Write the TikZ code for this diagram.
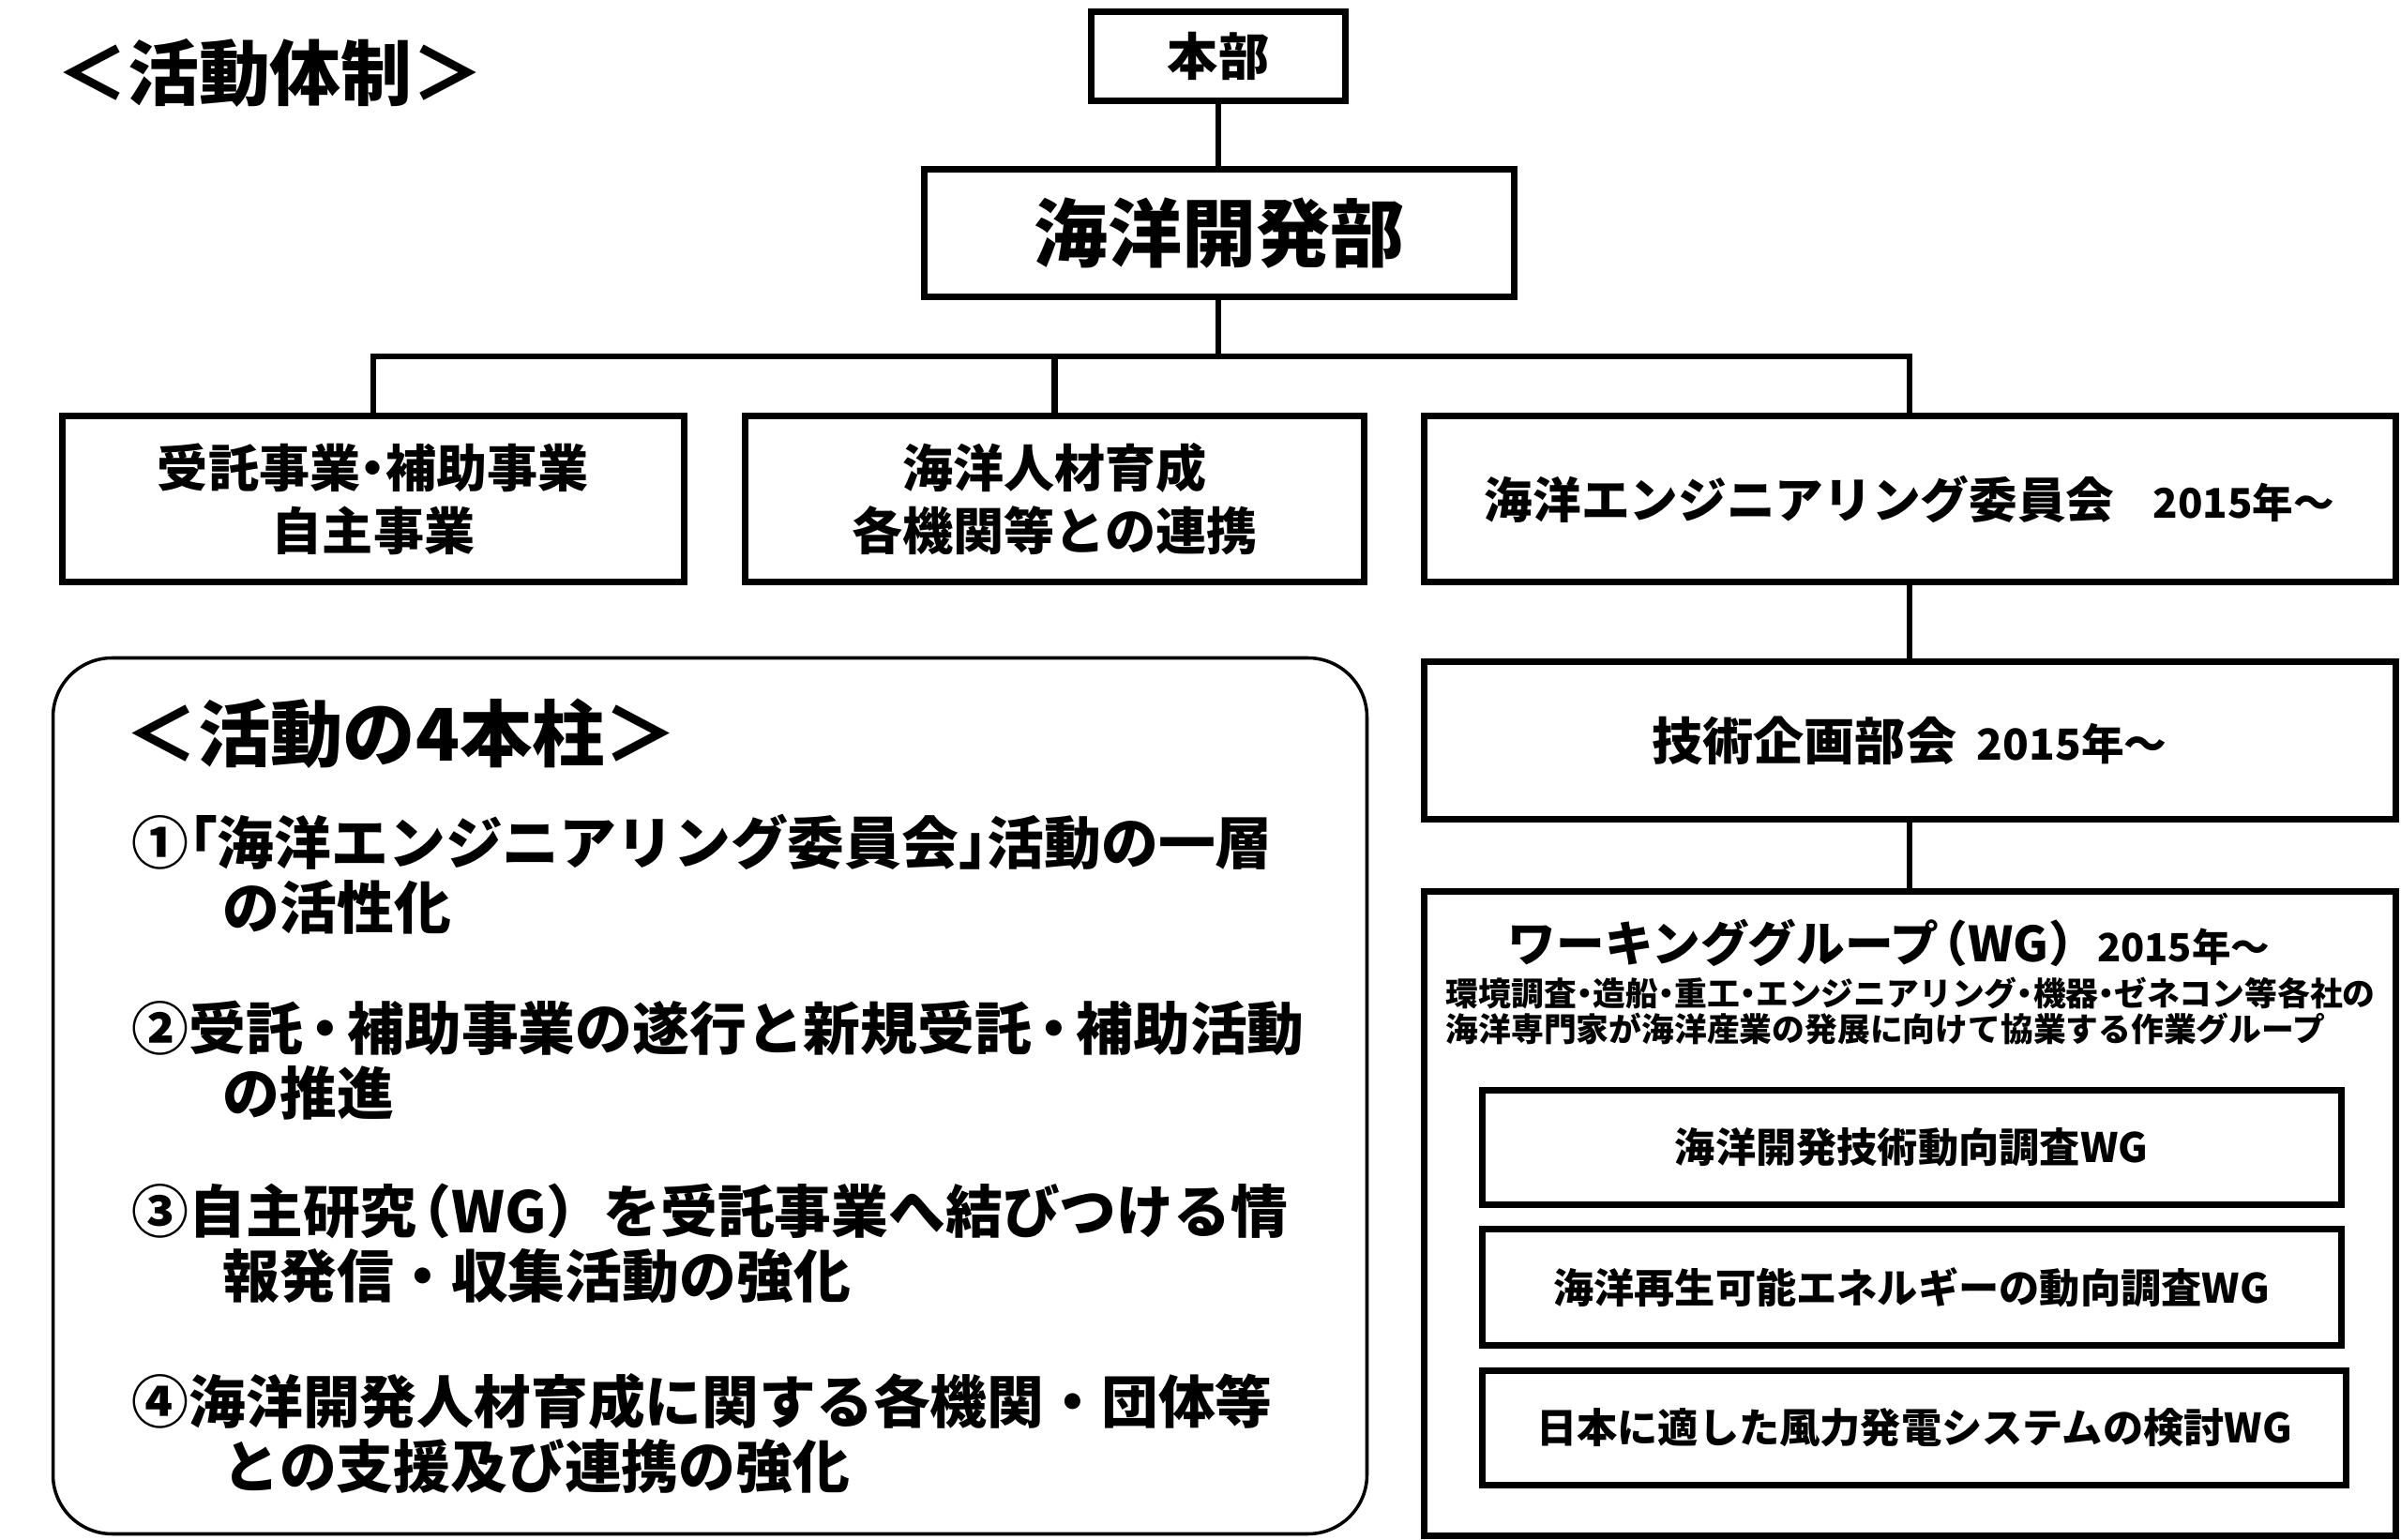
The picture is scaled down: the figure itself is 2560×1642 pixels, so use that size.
\documentclass[tikz,border=0pt]{standalone}
\usepackage{fontspec}
\setmainfont{Noto Sans CJK JP}
\newcommand{\hdot}{\makebox[.5em]{・}}
\newcommand{\mdot}{\makebox[.78em]{・}}
\newcommand{\lkagi}{\makebox[.5em][r]{「}}
\newcommand{\rkagi}{\makebox[.5em][l]{」}}
\newcommand{\lparen}{\makebox[.6em][r]{（}}

\begin{document}
\begin{tikzpicture}[x=0.1mm, y=-0.1mm,
    box/.style={draw, line width=2pt, inner sep=0pt, align=center,
      font={\bfseries\fontsize{15.4}{19}\selectfont}},
    wgbox/.style={box, font={\bfseries\fontsize{12.3}{15}\selectfont}},
    conn/.style={line width=1.8pt}]
    \useasboundingbox (0,0) rectangle (2560,1642);

    % title
    \node[font={\bfseries\fontsize{21.6}{24}\selectfont}] (title) at (288,78) {＜活動体制＞};

    % head office and department
    \node[box, minimum width=27.1mm, minimum height=9.5mm] (honbu) at (1299,60) {本部};
    \node[box, minimum width=62.9mm, minimum height=13.6mm,
      font={\bfseries\fontsize{22.5}{26}\selectfont}] (kaiyou) at (1300,248.5) {海洋開発部};

    % first row
    \node[box, minimum width=66.3mm, minimum height=17.7mm] (jutaku) at (398,532) {受託事業\hdot 補助事業\\自主事業};
    \node[box, minimum width=66mm, minimum height=17.7mm] (jinzai) at (1124.5,532) {海洋人材育成\\各機関等との連携};
    \node[box, minimum width=103.6mm, minimum height=17.7mm, font={\bfseries\fontsize{14.7}{19}\selectfont}] (iinkai) at (2036,532)
      {海洋エンジニアリング委員会\hspace{0.8em}{\fontsize{12.4}{16}\selectfont 2015年～}};

    % committee chain
    \node[box, minimum width=103.6mm, minimum height=16.8mm] (gijutsu) at (2036,789.5)
      {技術企画部会\hspace{0.4em}{\fontsize{13}{16}\selectfont 2015年～}};
    \node[box, minimum width=103.6mm, minimum height=68.75mm] (wg) at (2036,1294) {};
    \node[font={\bfseries\fontsize{14.7}{17}\selectfont}, inner sep=0pt] (wgtitle) at (2014,1005)
      {ワーキンググループ\lparen WG）{\fontsize{11.8}{14}\selectfont 2015年～}};
    \node[anchor=west, align=left, inner sep=0pt,
      font={\bfseries\fontsize{9.9}{10.8}\selectfont}] (wgdesc) at (1541,1078)
      {環境調査\hdot 造船\hdot 重工\hdot エンジニアリング\hdot 機器\hdot ゼネコン等各社の\\
       海洋専門家が海洋産業の発展に向けて協業する作業グループ};

    % working groups
    \node[wgbox, minimum width=91.6mm, minimum height=12.2mm] (wg1) at (2038,1223.5) {海洋開発技術動向調査WG};
    \node[wgbox, minimum width=91.6mm, minimum height=12.4mm] (wg2) at (2038,1372.5) {海洋再生可能エネルギーの動向調査WG};
    \node[wgbox, minimum width=92.1mm, minimum height=12.2mm] (wg3) at (2041,1522.5) {日本に適した風力発電システムの検討WG};

    % four pillars
    \node[draw, line width=1pt, rounded corners=6.3mm, minimum width=140.1mm,
      minimum height=93.4mm] (pillars) at (757,1168.5) {};
    \node[font={\bfseries\fontsize{22}{24}\selectfont}] (ptitle) at (428,782) {＜活動の4本柱＞};
    \begin{scope}[every node/.style={anchor=west, align=left, inner sep=0pt,
        font={\bfseries\fontsize{17.3}{19.6}\selectfont}}]
      \node (p1) at (140,932) {①\lkagi 海洋エンジニアリング委員会\rkagi 活動の一層\\\hspace*{1.6em}の活性化};
      \node (p2) at (140,1131) {②受託\mdot 補助事業の遂行と新規受託\mdot 補助活動\\\hspace*{1.6em}の推進};
      \node (p3) at (140,1326) {③自主研究\lparen WG）を受託事業へ結びつける情\\\hspace*{1.6em}報発信・収集活動の強化};
      \node (p4) at (140,1528.5) {④海洋開発人材育成に関する各機関・団体等\\\hspace*{1.6em}との支援及び連携の強化};
    \end{scope}

    % connectors
    \coordinate (bus) at (1299,380);
    \draw[conn] (honbu.south) -- (honbu.south |- kaiyou.north);
    \draw[conn] (kaiyou.south -| bus) -- (bus);
    \draw[conn] (jutaku.north) |- (bus) -| (iinkai.north);
    \draw[conn] (jinzai.north) -- (jinzai.north |- bus);
    \draw[conn] (iinkai) -- (gijutsu);
    \draw[conn] (gijutsu) -- (wg);
\end{tikzpicture}
\end{document}
